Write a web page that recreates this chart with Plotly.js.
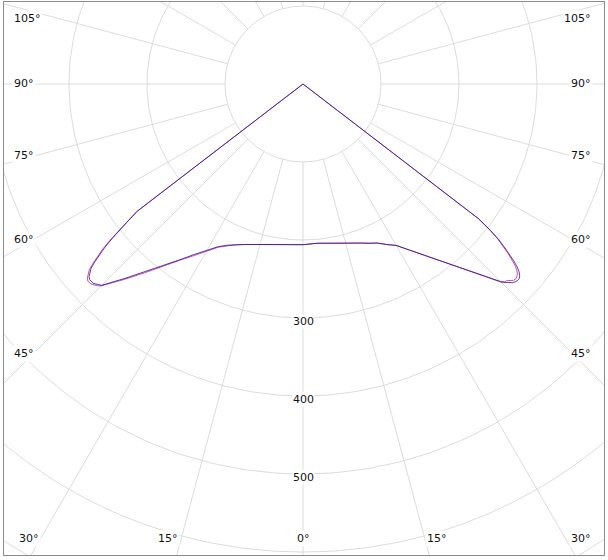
<!DOCTYPE html>
<html><head><meta charset="utf-8">
<script src="https://cdn.plot.ly/plotly-3.0.1.min.js"></script>
<style>html,body{margin:0;padding:0;background:#fff;overflow:hidden}#chart{width:608px;height:560px}</style>
</head><body><div id="chart"></div>
<script>
// ---- data (luminous intensity, cd, vs gamma angle in degrees; negative = left half-plane) ----
const gammaDeg = [-180,-90,-60,-55,
  -52.7,-52.5,-52,-51.5,-51,-50.5,-50,-49.5,-49,-48.5,-48,-47.5,-47,-46.5,-46,-45.5,-45,
  -42.5,-40,-37.5,-35,-32.5,-30,-27.5,-25,-22.5,-20,
  -15,-10,-5,
  0,
  5,10,15,
  20,22.5,25,27.5,30,32.5,35,37.5,40,42.5,
  45,45.5,46,46.5,47,47.5,48,48.5,49,49.5,50,50.5,51,51.5,52,52.5,
  55,60,90,180];
const intensityBlue = [0,0,0,0,
  263,268,283,300,315,329,341,351,360,365,369,371,371,371,369,367,365,
  338,314,293,275,259,246,235,228,223,219,
  213,209,207,
  206,
  205,207,211,
  217,221,225,232,239,252,267,284,305,330,
  359,363,367,370,372,373,373,371,367,361,353,343,332,321,305,283,
  0,0,0,0];
const intensityMagenta = [0,0,0,0,
  263,268,284,301,318,333,344,354,363,368,372,374,374,373,371,369,366,
  340,316,294,276,261,247,236,229,223,219,
  213,209,207,
  206,
  205,207,211,
  217,221,225,232,239,252,267,284,305,330,
  358,362,363,366,369,370,369,367,363,357,349,340,329,319,304,283,
  0,0,0,0];
const radialTicks = [100,200,300,400,500,600,700];
const radialTickLabels = [300,400,500];
const angleTicks = [0,15,30,45,60,75,90,105,120,135,150,165,180,195,210,225,240,255,270,285,300,315,330,345];
const sideLabels = ['105°','90°','75°','60°','45°','30°'];
const bottomLabels = ['15°','0°','15°'];

// ---- layout constants (pixels) ----
const W = 608, H = 560;
const BOX = {l:4, r:604, t:2, b:555};
const CX = 303, CY = 84;          // pole position in pixels
const PX_PER_CD = 0.78;
const sideLabelY = [18,83,155,240,353,538];
const bottomLabelX = [168,303,437];
const bottomLabelY = 538;

const rad = d => d*Math.PI/180;
const toX = (r,g) => r*Math.sin(rad(g));
const toY = (r,g) => -r*Math.cos(rad(g));

const gridColor = '#dcdcdc';
const traces = [];

// circles
const cx=[], cy=[];
radialTicks.forEach(r=>{
  for(let a=0;a<=360;a+=1){cx.push(toX(r,a));cy.push(toY(r,a));}
  cx.push(null);cy.push(null);
});
traces.push({type:'scatter',mode:'lines',x:cx,y:cy,line:{color:gridColor,width:1},hoverinfo:'skip',showlegend:false});
// radial lines (from first circle outward)
const lx=[], ly=[];
angleTicks.forEach(a=>{
  lx.push(toX(radialTicks[0],a),toX(1200,a),null);
  ly.push(toY(radialTicks[0],a),toY(1200,a),null);
});
traces.push({type:'scatter',mode:'lines',x:lx,y:ly,line:{color:gridColor,width:1},hoverinfo:'skip',showlegend:false});

function curve(vals,color,opacity){
  return {type:'scatter',mode:'lines',
    x:gammaDeg.map((g,i)=>toX(vals[i],g)),
    y:gammaDeg.map((g,i)=>toY(vals[i],g)),
    line:{color:color,width:1},opacity:opacity,showlegend:false,hoverinfo:'skip'};
}
traces.push(curve(intensityMagenta,'rgb(205,70,195)',1));
traces.push(curve(intensityBlue,'rgb(40,30,125)',0.8));

const font = {family:'"DejaVu Sans", Verdana, sans-serif', size:11, color:'#111'};
const pw = BOX.r-BOX.l, ph = BOX.b-BOX.t;
const px2x = p => (p-BOX.l)/pw;
const py2y = p => (BOX.b-p)/ph;

const annotations = [];
radialTickLabels.forEach(r=>{
  annotations.push({xref:'x',yref:'y',x:0,y:-r,yshift:-3,text:String(r),showarrow:false,font:font,bgcolor:'#fff',borderpad:0,xanchor:'center',yanchor:'middle'});
});
sideLabels.forEach((t,i)=>{
  const last = i===sideLabels.length-1;
  annotations.push({xref:'paper',yref:'paper',x:px2x(last?17:12),y:py2y(sideLabelY[i]),text:t,showarrow:false,font:font,bgcolor:'#fff',borderpad:1,xanchor:'left',yanchor:'middle'});
  annotations.push({xref:'paper',yref:'paper',x:px2x(593),y:py2y(sideLabelY[i]),text:t,showarrow:false,font:font,bgcolor:'#fff',borderpad:1,xanchor:'right',yanchor:'middle'});
});
bottomLabels.forEach((t,i)=>{
  annotations.push({xref:'paper',yref:'paper',x:px2x(bottomLabelX[i]),y:py2y(bottomLabelY),text:t,showarrow:false,font:font,bgcolor:'#fff',borderpad:1,xanchor:'center',yanchor:'middle'});
});

const axisCommon = {showgrid:false,zeroline:false,showticklabels:false,ticks:'',showline:true,mirror:true,linecolor:'#8c8c8c',linewidth:1,fixedrange:true};
const layout = {
  width:W,height:H,
  margin:{l:BOX.l,r:W-BOX.r,t:BOX.t,b:H-BOX.b,pad:0},
  paper_bgcolor:'#fff',plot_bgcolor:'#fff',
  xaxis:Object.assign({range:[(BOX.l-CX)/PX_PER_CD,(BOX.r-CX)/PX_PER_CD]},axisCommon),
  yaxis:Object.assign({range:[-(BOX.b-CY)/PX_PER_CD,(CY-BOX.t)/PX_PER_CD]},axisCommon),
  annotations:annotations,
  showlegend:false
};
Plotly.newPlot('chart',traces,layout,{staticPlot:true,displayModeBar:false});
</script>
</body></html>
